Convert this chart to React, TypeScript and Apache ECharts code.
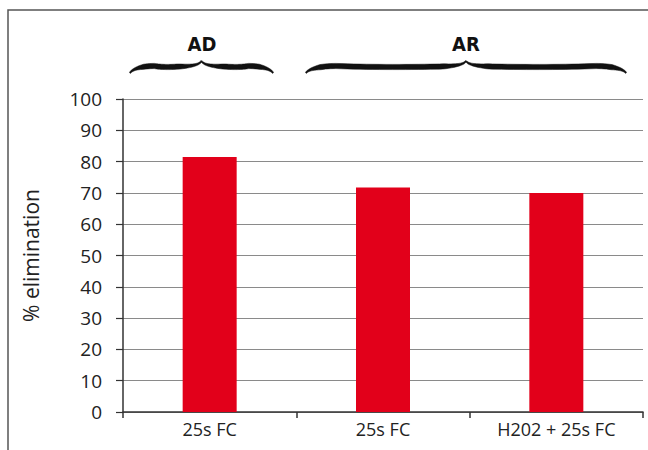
import React, { useEffect, useRef } from "react";
import * as echarts from "echarts";

const categories = ["25s FC", "25s FC", "H202 + 25s FC"];
const elimination = [81.5, 71.7, 70.0];
const yTicks = [0, 10, 20, 30, 40, 50, 60, 70, 80, 90, 100];
const groups = ["AD", "AR"];

type Pt = [number, number];

function cubic(p0: Pt, p1: Pt, p2: Pt, p3: Pt, t: number): Pt {
  const u = 1 - t;
  return [
    u * u * u * p0[0] + 3 * u * u * t * p1[0] + 3 * u * t * t * p2[0] + t * t * t * p3[0],
    u * u * u * p0[1] + 3 * u * u * t * p1[1] + 3 * u * t * t * p2[1] + t * t * t * p3[1],
  ];
}

// Filled calligraphic curly brace, w wide and h tall, with its peak at top centre.
function bracePath(w: number, h: number): string {
  const m = w / 2;
  const a = 5;
  const q = Math.min(30, w * 0.17);
  const r = Math.min(30, w * 0.17);
  // left half of the centre line, from the tip to the peak
  const segs: [Pt, Pt, Pt, Pt][] = [
    [[0, h], [2, a + 3], [q * 0.5, a], [q, a]],
    [[q, a], [q + (m - r - q) * 0.3, a + 1.2], [q + (m - r - q) * 0.7, a + 1.2], [m - r, a + 0.6]],
    [[m - r, a + 0.6], [m - r * 0.35, a + 0.3], [m - 2, a - 1.5], [m, 0]],
  ];
  const centre: Pt[] = [];
  segs.forEach((s, i) => {
    for (let k = i === 0 ? 0 : 1; k <= 16; k++) centre.push(cubic(s[0], s[1], s[2], s[3], k / 16));
  });
  const thick = (x: number) => {
    const tipFade = Math.min(1, x / 14);
    const peakFade = Math.min(1, (m - x) / 22);
    return 1.4 + 3.8 * Math.min(tipFade, peakFade);
  };
  const upper: Pt[] = [];
  const lower: Pt[] = [];
  centre.forEach((p, i) => {
    const prev = centre[Math.max(0, i - 1)];
    const next = centre[Math.min(centre.length - 1, i + 1)];
    let dx = next[0] - prev[0];
    let dy = next[1] - prev[1];
    const len = Math.hypot(dx, dy) || 1;
    dx /= len;
    dy /= len;
    const t = thick(p[0]) / 2;
    upper.push([p[0] + dy * t, p[1] - dx * t]);
    lower.push([p[0] - dy * t, p[1] + dx * t]);
  });
  const mirror = (p: Pt): Pt => [w - p[0], p[1]];
  const outline: Pt[] = [
    ...upper,
    ...upper.slice(0, -1).reverse().map(mirror),
    ...lower.map(mirror),
    ...lower.slice(0, -1).reverse(),
  ];
  return (
    outline.map((p, i) => `${i === 0 ? "M" : "L"} ${p[0].toFixed(2)} ${p[1].toFixed(2)}`).join(" ") + " Z"
  );
}

echarts.graphic.registerShape("braceAD", echarts.graphic.extendPath(bracePath(143, 12), {}));
echarts.graphic.registerShape("braceAR", echarts.graphic.extendPath(bracePath(320, 12), {}));

export default function App() {
  const ref = useRef<HTMLDivElement>(null);

  useEffect(() => {
    if (!ref.current) return;
    const chart = echarts.init(ref.current, null, { renderer: "svg" });
    const braceStyle = { fill: "#111", stroke: "#111", lineWidth: 0.5 };
    const groupLabel = (text: string, x: number) => ({
      type: "text",
      x,
      y: 44,
      style: {
        text,
        fontSize: 20,
        fontWeight: "bold",
        fontFamily: "DejaVu Sans Condensed",
        fill: "#111",
        align: "center",
        verticalAlign: "middle",
      },
    });
    chart.setOption({
      animation: false,
      backgroundColor: "#ffffff",
      grid: { left: 123, right: 5, top: 99, bottom: 38 },
      xAxis: {
        type: "category",
        data: categories,
        axisLine: { show: true, lineStyle: { color: "#333", width: 1.5 } },
        axisTick: { show: true, length: 6, lineStyle: { color: "#333", width: 1.5 } },
        axisLabel: {
          margin: 8,
          fontSize: 18,
          color: "#222",
          fontFamily: "Open Sans",
        },
      },
      yAxis: {
        type: "value",
        min: 0,
        max: 100,
        interval: 10,
        name: "% elimination",
        nameLocation: "middle",
        nameGap: 82,
        nameRotate: 90,
        nameTextStyle: { fontSize: 21, color: "#222", fontFamily: "Open Sans" },
        axisLine: { show: true, lineStyle: { color: "#333", width: 1.5 } },
        axisTick: { show: true, inside: false, length: 7, lineStyle: { color: "#333", width: 1.2 } },
        axisLabel: {
          margin: 21,
          fontSize: 19,
          color: "#222",
          fontFamily: "Open Sans",
          formatter: (v: number) => (yTicks.includes(v) ? String(v) : ""),
        },
        splitLine: { show: true, lineStyle: { color: "#8a8a8a", width: 1 } },
      },
      series: [
        {
          type: "bar",
          data: elimination,
          barWidth: 54,
          itemStyle: { color: "#e2001a" },
        },
      ],
      graphic: [
        {
          type: "rect",
          shape: { x: 8, y: 10, width: 700, height: 500 },
          style: { fill: "none", stroke: "#555", lineWidth: 1.5 },
          silent: true,
        },
        { type: "braceAD", x: 130, y: 61, style: braceStyle },
        { type: "braceAR", x: 306, y: 61, style: braceStyle },
        groupLabel(groups[0], 202),
        groupLabel(groups[1], 466),
      ],
    });
    return () => chart.dispose();
  }, []);

  return (
    <div
      ref={ref}
      style={{ position: "fixed", left: 0, top: 0, width: 648, height: 450 }}
    />
  );
}
